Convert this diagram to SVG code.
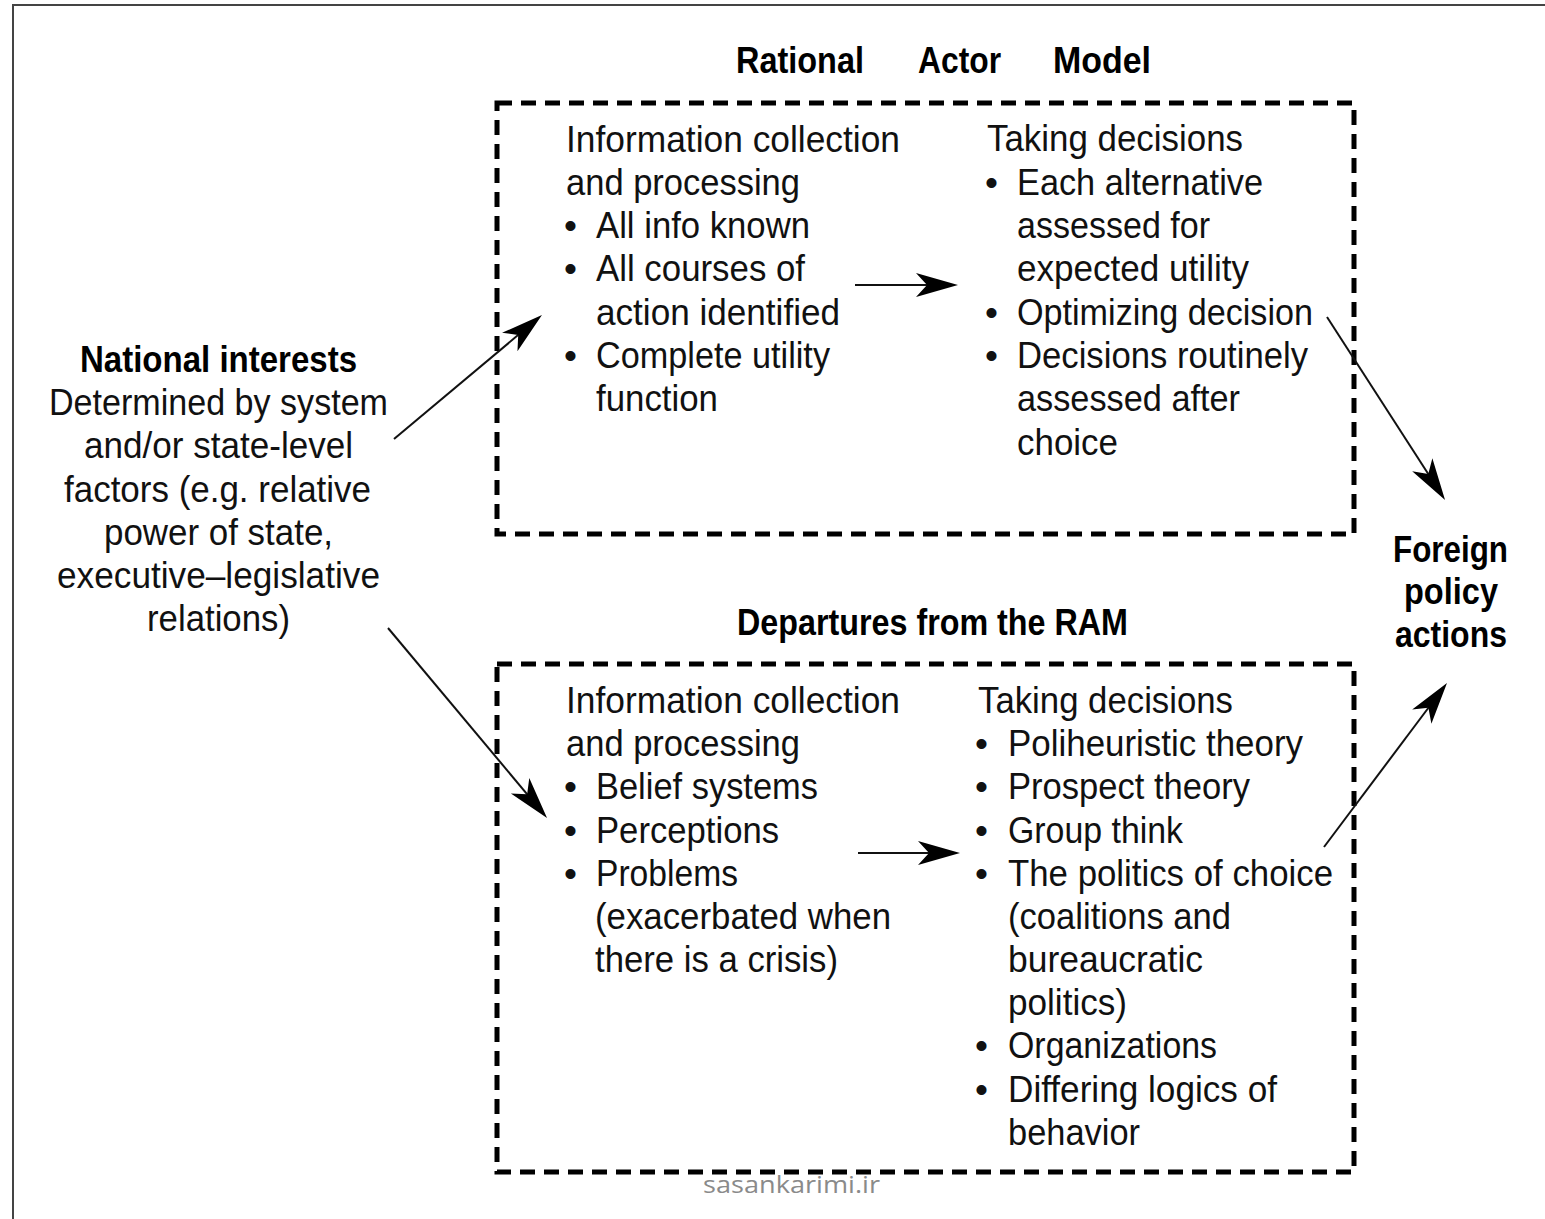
<svg xmlns="http://www.w3.org/2000/svg" width="1545" height="1219" viewBox="0 0 1545 1219">
<style>
  .t{font-family:"Liberation Sans",Arial,sans-serif;font-size:37px;fill:#111;}
  .b{font-family:"Liberation Sans",Arial,sans-serif;font-size:37px;font-weight:bold;fill:#000;}
  .m{text-anchor:middle;}
  .box{fill:none;stroke:#000;stroke-width:5;stroke-dasharray:15 9;}
  .conn{stroke:#111;stroke-width:2;fill:none;}
</style>
<defs>
  <marker id="ah" viewBox="-44 -14 46 28" markerWidth="46" markerHeight="28" refX="-25" refY="0" orient="auto" markerUnits="userSpaceOnUse">
    <path d="M0,0 L-42,-12 L-31,0 L-42,12 Z" fill="#000"/>
  </marker>
</defs>
<rect width="1545" height="1219" fill="#fff"/>
<path d="M13,1219 V5 H1545" fill="none" stroke="#444" stroke-width="2"/>

<g id="title-ram">
  <text class="b" x="736" y="73" textLength="128" lengthAdjust="spacingAndGlyphs">Rational</text>
  <text class="b" x="918" y="73" textLength="83" lengthAdjust="spacingAndGlyphs">Actor</text>
  <text class="b" x="1053" y="73" textLength="98" lengthAdjust="spacingAndGlyphs">Model</text>
</g>

<g id="box-ram">
  <rect class="box" x="497" y="103" width="857" height="431"/>
</g>

<g id="ram-info">
  <text class="t" x="566" y="152" textLength="334" lengthAdjust="spacingAndGlyphs">Information collection</text>
  <text class="t" x="566" y="195" textLength="234" lengthAdjust="spacingAndGlyphs">and processing</text>
  <text class="t" x="564" y="238">•</text>
  <text class="t" x="596" y="238" textLength="214" lengthAdjust="spacingAndGlyphs">All info known</text>
  <text class="t" x="564" y="281">•</text>
  <text class="t" x="596" y="281" textLength="209" lengthAdjust="spacingAndGlyphs">All courses of</text>
  <text class="t" x="596" y="325" textLength="244" lengthAdjust="spacingAndGlyphs">action identified</text>
  <text class="t" x="564" y="368">•</text>
  <text class="t" x="596" y="368" textLength="234" lengthAdjust="spacingAndGlyphs">Complete utility</text>
  <text class="t" x="596" y="411" textLength="122" lengthAdjust="spacingAndGlyphs">function</text>
</g>

<g id="ram-decisions">
  <text class="t" x="987" y="151" textLength="256" lengthAdjust="spacingAndGlyphs">Taking decisions</text>
  <text class="t" x="985" y="195">•</text>
  <text class="t" x="1017" y="195" textLength="246" lengthAdjust="spacingAndGlyphs">Each alternative</text>
  <text class="t" x="1017" y="238" textLength="193" lengthAdjust="spacingAndGlyphs">assessed for</text>
  <text class="t" x="1017" y="281" textLength="232" lengthAdjust="spacingAndGlyphs">expected utility</text>
  <text class="t" x="985" y="325">•</text>
  <text class="t" x="1017" y="325" textLength="296" lengthAdjust="spacingAndGlyphs">Optimizing decision</text>
  <text class="t" x="985" y="368">•</text>
  <text class="t" x="1017" y="368" textLength="291" lengthAdjust="spacingAndGlyphs">Decisions routinely</text>
  <text class="t" x="1017" y="411" textLength="223" lengthAdjust="spacingAndGlyphs">assessed after</text>
  <text class="t" x="1017" y="455" textLength="101" lengthAdjust="spacingAndGlyphs">choice</text>
</g>

<g id="title-departures">
  <text class="b" x="737" y="635" textLength="391" lengthAdjust="spacingAndGlyphs">Departures from the RAM</text>
</g>

<g id="box-departures">
  <rect class="box" x="497" y="664" width="857" height="508"/>
</g>

<g id="dep-info">
  <text class="t" x="566" y="713" textLength="334" lengthAdjust="spacingAndGlyphs">Information collection</text>
  <text class="t" x="566" y="756" textLength="234" lengthAdjust="spacingAndGlyphs">and processing</text>
  <text class="t" x="564" y="799">•</text>
  <text class="t" x="596" y="799" textLength="222" lengthAdjust="spacingAndGlyphs">Belief systems</text>
  <text class="t" x="564" y="843">•</text>
  <text class="t" x="596" y="843" textLength="183" lengthAdjust="spacingAndGlyphs">Perceptions</text>
  <text class="t" x="564" y="886">•</text>
  <text class="t" x="596" y="886" textLength="142" lengthAdjust="spacingAndGlyphs">Problems</text>
  <text class="t" x="595" y="929" textLength="296" lengthAdjust="spacingAndGlyphs">(exacerbated when</text>
  <text class="t" x="595" y="972" textLength="243" lengthAdjust="spacingAndGlyphs">there is a crisis)</text>
</g>

<g id="dep-decisions">
  <text class="t" x="978" y="713" textLength="255" lengthAdjust="spacingAndGlyphs">Taking decisions</text>
  <text class="t" x="975" y="756">•</text>
  <text class="t" x="1008" y="756" textLength="295" lengthAdjust="spacingAndGlyphs">Poliheuristic theory</text>
  <text class="t" x="975" y="799">•</text>
  <text class="t" x="1008" y="799" textLength="242" lengthAdjust="spacingAndGlyphs">Prospect theory</text>
  <text class="t" x="975" y="843">•</text>
  <text class="t" x="1008" y="843" textLength="175" lengthAdjust="spacingAndGlyphs">Group think</text>
  <text class="t" x="975" y="886">•</text>
  <text class="t" x="1008" y="886" textLength="325" lengthAdjust="spacingAndGlyphs">The politics of choice</text>
  <text class="t" x="1008" y="929" textLength="223" lengthAdjust="spacingAndGlyphs">(coalitions and</text>
  <text class="t" x="1008" y="972" textLength="195" lengthAdjust="spacingAndGlyphs">bureaucratic</text>
  <text class="t" x="1008" y="1015" textLength="119" lengthAdjust="spacingAndGlyphs">politics)</text>
  <text class="t" x="975" y="1058">•</text>
  <text class="t" x="1008" y="1058" textLength="209" lengthAdjust="spacingAndGlyphs">Organizations</text>
  <text class="t" x="975" y="1102">•</text>
  <text class="t" x="1008" y="1102" textLength="269" lengthAdjust="spacingAndGlyphs">Differing logics of</text>
  <text class="t" x="1008" y="1145" textLength="132" lengthAdjust="spacingAndGlyphs">behavior</text>
</g>

<g id="national-interests">
  <text class="b m" x="218.5" y="372" textLength="277" lengthAdjust="spacingAndGlyphs">National interests</text>
  <text class="t m" x="218.5" y="415" textLength="339" lengthAdjust="spacingAndGlyphs">Determined by system</text>
  <text class="t m" x="218.5" y="458" textLength="269" lengthAdjust="spacingAndGlyphs">and/or state-level</text>
  <text class="t m" x="217.5" y="502" textLength="307" lengthAdjust="spacingAndGlyphs">factors (e.g. relative</text>
  <text class="t m" x="218.5" y="545" textLength="229" lengthAdjust="spacingAndGlyphs">power of state,</text>
  <text class="t m" x="218.5" y="588" textLength="323" lengthAdjust="spacingAndGlyphs">executive–legislative</text>
  <text class="t m" x="218.5" y="631" textLength="143" lengthAdjust="spacingAndGlyphs">relations)</text>
</g>

<g id="foreign-policy-actions">
  <text class="b m" x="1450.5" y="562" textLength="115" lengthAdjust="spacingAndGlyphs">Foreign</text>
  <text class="b m" x="1451" y="604" textLength="94" lengthAdjust="spacingAndGlyphs">policy</text>
  <text class="b m" x="1451" y="647" textLength="112" lengthAdjust="spacingAndGlyphs">actions</text>
</g>

<g id="connectors">
  <line class="conn" x1="394" y1="439" x2="522.8" y2="331.1" marker-end="url(#ah)"/>
  <line class="conn" x1="388" y1="628" x2="531" y2="798.8" marker-end="url(#ah)"/>
  <line class="conn" x1="855" y1="285" x2="933" y2="285" marker-end="url(#ah)"/>
  <line class="conn" x1="858" y1="853" x2="935" y2="853" marker-end="url(#ah)"/>
  <line class="conn" x1="1327" y1="317" x2="1431.5" y2="479" marker-end="url(#ah)"/>
  <line class="conn" x1="1324" y1="847" x2="1432" y2="703" marker-end="url(#ah)"/>
</g>

<text x="703" y="1193" font-family="'Open Sans',sans-serif" font-size="23" fill="#8a8a8a" textLength="177" lengthAdjust="spacingAndGlyphs">sasankarimi.ir</text>
</svg>
